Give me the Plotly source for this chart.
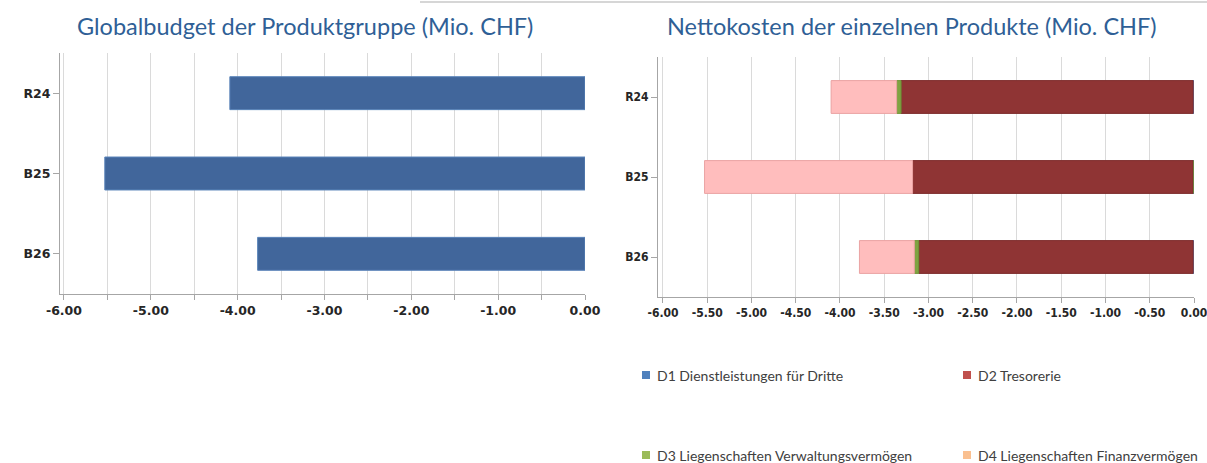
import plotly.graph_objects as go

# ---- data ----
categories = ["R24", "B25", "B26"]
global_budget = [-4.09, -5.53, -3.77]

d1_values = [-0.01, -0.01, -0.01]
d2_values = [-3.30, -3.17, -3.10]
d3_values = [-0.05, 0.0, -0.05]
d4_values = [-0.74, -2.35, -0.62]

series_names = [
    "D1 Dienstleistungen für Dritte",
    "D2 Tresorerie",
    "D3 Liegenschaften Verwaltungsvermögen",
    "D4 Liegenschaften Finanzvermögen",
]
left_ticks = [-6, -5, -4, -3, -2, -1, 0]
left_ticktext = ["-6.00", "-5.00", "-4.00", "-3.00", "-2.00", "-1.00", "0.00"]
right_ticks = [-6, -5.5, -5, -4.5, -4, -3.5, -3, -2.5, -2, -1.5, -1, -0.5, 0]
right_ticktext = ["-6.00", "-5.50", "-5.00", "-4.50", "-4.00", "-3.50", "-3.00",
                  "-2.50", "-2.00", "-1.50", "-1.00", "-0.50", "0.00"]

# ---- styles ----
W, H = 1207, 463
bar_fill = ["#4f81bd", "#8f3434", "#80a342", "#ffbdbd"]
bar_line = ["#4f81bd", "#7e2d2d", "#6f9236", "#eaa3a3"]
legend_colors = ["#4f81bd", "#c0504d", "#9bbb59", "#fac090"]
title_color = "#2f5f96"
grid_color = "#dadada"
axis_color = "#a6a6a6"

fig = go.Figure()

fig.add_trace(go.Bar(
    y=categories, x=global_budget, orientation="h",
    marker=dict(color="#41669b", line=dict(color="#5a84b9", width=1)),
    width=0.41, xaxis="x", yaxis="y", showlegend=False,
))

right_series = [d1_values, d2_values, d3_values, d4_values]
for i, vals in enumerate(right_series):
    fig.add_trace(go.Bar(
        y=categories, x=vals, orientation="h", name=series_names[i],
        marker=dict(color=bar_fill[i], line=dict(color=bar_line[i], width=1)),
        width=0.41, xaxis="x2", yaxis="y2", showlegend=False,
    ))

tick_font_left = dict(family="DejaVu Sans", size=12.5, color="#262626", weight="bold")
tick_font_right = dict(family="DejaVu Sans Condensed", size=12, color="#262626", weight="bold")

xaxis_common = dict(
    showline=True, linecolor=axis_color, linewidth=1,
    showgrid=True, gridcolor=grid_color, gridwidth=1,
    ticks="outside", ticklen=5, tickcolor=axis_color,
    zeroline=False, fixedrange=True, automargin=False,
    ticklabeloverflow="allow",
)
yaxis_common = dict(
    showline=True, linecolor=axis_color, linewidth=1,
    showgrid=False, ticks="outside", ticklen=6, tickcolor=axis_color,
    autorange="reversed", type="category", zeroline=False, automargin=False,
)

# manual legend (2 x 2 grid)
legend_pos = [(642, 375), (963, 375), (642, 455), (963, 455)]
annotations = [
    dict(text="Globalbudget der Produktgruppe (Mio. CHF)", x=305 / W, y=1 - 26 / H,
         xref="paper", yref="paper", showarrow=False, xanchor="center", yanchor="middle",
         font=dict(family="Lato", size=23.5, color=title_color)),
    dict(text="Nettokosten der einzelnen Produkte (Mio. CHF)", x=912 / W, y=1 - 26 / H,
         xref="paper", yref="paper", showarrow=False, xanchor="center", yanchor="middle",
         font=dict(family="Lato", size=23.5, color=title_color)),
]
shapes = [
    dict(type="line", xref="paper", yref="paper", x0=420 / W, x1=1.0,
         y0=1 - 2 / H, y1=1 - 2 / H, line=dict(color="#d6d6d6", width=2)),
]
for (px, py), name, col in zip(legend_pos, series_names, legend_colors):
    shapes.append(dict(type="rect", xref="paper", yref="paper",
                       x0=px / W, x1=(px + 8) / W, y0=1 - (py + 4) / H, y1=1 - (py - 4) / H,
                       fillcolor=col, line=dict(width=0)))
    annotations.append(dict(text=name, x=(px + 13) / W, y=1 - py / H, xref="paper", yref="paper",
                            showarrow=False, xanchor="left", yanchor="middle",
                            font=dict(family="Lato", size=14, color="#404040")))

fig.update_layout(
    width=W, height=H,
    margin=dict(l=0, r=0, t=0, b=0),
    paper_bgcolor="white", plot_bgcolor="white",
    barmode="relative", showlegend=False,
    xaxis=dict(domain=[60 / W, 585 / W], range=[-6.046, 0],
               tickvals=left_ticks, ticktext=left_ticktext, tickfont=tick_font_left,
               minor=dict(dtick=0.5, tick0=0, showgrid=True, gridcolor=grid_color,
                          ticks="outside", ticklen=5, tickcolor=axis_color),
               anchor="y", **xaxis_common),
    yaxis=dict(domain=[1 - 294 / H, 1 - 53 / H], anchor="x",
               tickfont=tick_font_left, **yaxis_common),
    xaxis2=dict(domain=[658 / W, 1194 / W], range=[-6.056, 0],
                tickvals=right_ticks, ticktext=right_ticktext, tickfont=tick_font_right,
                anchor="y2", **xaxis_common),
    yaxis2=dict(domain=[1 - 297 / H, 1 - 57 / H], anchor="x2",
                tickfont=tick_font_right, **yaxis_common),
    annotations=annotations,
    shapes=shapes,
)

fig.write_html("out.html",
               config={"displayModeBar": False},
               post_script="document.body.style.margin='0';document.body.style.overflow='hidden';")
